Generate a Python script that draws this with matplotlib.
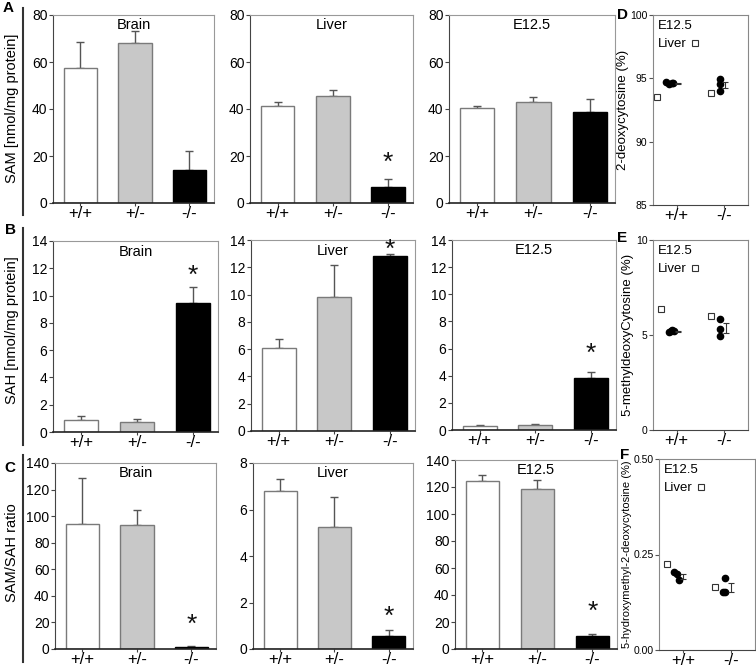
import numpy as np
import matplotlib
matplotlib.use('Agg')
import matplotlib.pyplot as plt
import matplotlib.transforms as mtransforms
from matplotlib.lines import Line2D

plt.rcParams['font.family'] = ['Liberation Sans', 'DejaVu Sans']

W, H = 756, 669

genotypes = ['+/+', '+/-', '-/-']
bar_colors = ['white', '#c8c8c8', 'black']

# SAM [nmol/mg protein]
sam_brain = [57.5, 68.1, 13.9]
sam_brain_err = [11.0, 4.9, 8.1]
sam_liver = [41.1, 45.4, 7.0]
sam_liver_err = [1.9, 2.5, 3.3]
sam_e125 = [40.3, 43.0, 38.7]
sam_e125_err = [1.0, 1.9, 5.7]

# SAH [nmol/mg protein]
sah_brain = [0.85, 0.73, 9.45]
sah_brain_err = [0.35, 0.22, 1.15]
sah_liver = [6.1, 9.8, 12.8]
sah_liver_err = [0.66, 2.4, 0.2]
sah_e125 = [0.32, 0.38, 3.8]
sah_e125_err = [0.03, 0.03, 0.48]

# SAM/SAH ratio
ratio_brain = [94.0, 93.0, 1.5]
ratio_brain_err = [35.0, 12.0, 0.6]
ratio_liver = [6.8, 5.23, 0.54]
ratio_liver_err = [0.5, 1.3, 0.27]
ratio_e125 = [124.4, 118.5, 9.8]
ratio_e125_err = [4.4, 6.8, 1.2]

# asterisk heights (significance marks)
star_sam = [None, 19.2, None]
star_sah = [11.8, 13.65, 5.95]
star_ratio = [21.8, 1.6, 31.0]

# nucleoside panels: filled dots = E12.5, open square = liver
geno2 = ['+/+', '-/-']
d_wt_x = [0.77, 0.84, 0.89, 0.93]
d_wt = [94.7, 94.55, 94.65, 94.65]
d_ko_x = [1.90, 1.90, 1.90]
d_ko = [94.93, 94.54, 94.01]
d_mean_x = [1.03, 2.02]
d_mean = [94.62, 94.46]
d_sem = [0.03, 0.26]
d_liver_x = [0.59, 1.72]
d_liver = [93.5, 93.88]

e_wt_x = [0.84, 0.87, 0.89, 0.94]
e_wt = [5.14, 5.2, 5.26, 5.22]
e_ko_x = [1.92, 1.92, 1.92]
e_ko = [5.84, 5.32, 4.93]
e_mean_x = [1.03, 2.03]
e_mean = [5.19, 5.35]
e_sem = [0.03, 0.26]
e_liver_x = [0.66, 1.72]
e_liver = [6.37, 6.02]

f_wt_x = [0.82, 0.87, 0.92]
f_wt = [0.204, 0.198, 0.182]
f_ko_x = [1.83, 1.87, 1.88]
f_ko = [0.152, 0.188, 0.153]
f_mean_x = [0.99, 2.0]
f_mean = [0.192, 0.163]
f_sem = [0.007, 0.012]
f_liver_x = [0.67, 1.67]
f_liver = [0.225, 0.165]

fig = plt.figure(figsize=(W / 100, H / 100), dpi=100)


def px_axes(l, t, r, b):
    return fig.add_axes([l / W, 1 - b / H, (r - l) / W, (b - t) / H])


def bar_panel(ax, vals, errs, title, ymax, ystep, star=None):
    x = np.arange(len(vals))
    ax.bar(x, vals, width=0.61, color=bar_colors, edgecolor=['#7a7a7a', '#7a7a7a', 'black'],
           linewidth=1, zorder=2)
    ax.errorbar(x, vals, yerr=[[0] * len(errs), errs], fmt='none', ecolor='#555555',
                elinewidth=1, capsize=3, capthick=1, zorder=1)
    if star is not None:
        tr = mtransforms.offset_copy(ax.transData, fig=fig, y=-5, units='dots')
        ax.text(x[-1], star, '*', ha='center', va='center', fontsize=19, color='#111111',
                transform=tr)
    ax.set_xlim(-0.5, 2.45)
    ax.set_ylim(0, ymax)
    ax.set_yticks(np.arange(0, ymax + 0.01, ystep))
    ax.set_xticks(x)
    ax.set_xticklabels(genotypes, fontsize=12)
    ax.tick_params(axis='y', labelsize=10, length=3, pad=1, color='#444444')
    ax.tick_params(axis='x', length=2, pad=0.5, color='#444444')
    ax.text(0.5, 0.945, title, transform=ax.transAxes, ha='center', va='center', fontsize=10.5)
    for s in ['top', 'right']:
        ax.spines[s].set_color('#999999')
    ax.spines['left'].set_color('#444444')
    ax.spines['bottom'].set_color('#222222')
    ax.spines['bottom'].set_linewidth(1.2)


def dot_panel(ax, wt_x, wt, ko_x, ko, mx, m, sem, lx, lv, ylim, yticks, yfmt, ylabel, ylfs):
    ax.plot(lx, lv, 's', ms=4, mfc='white', mec='#333333', mew=0.8, ls='none')
    ax.plot(wt_x, wt, 'o', ms=4.5, color='black', ls='none')
    ax.plot(ko_x, ko, 'o', ms=4.5, color='black', ls='none')
    ax.errorbar(mx, m, yerr=sem, fmt='none', ecolor='#333333', elinewidth=0.8,
                capsize=2.2, capthick=0.8)
    ax.set_xlim(0.5, 2.5)
    ax.set_ylim(*ylim)
    ax.set_yticks(yticks)
    ax.set_yticklabels([yfmt.format(v) for v in yticks])
    ax.set_xticks([1, 2])
    ax.set_xticklabels(geno2, fontsize=12)
    ax.tick_params(axis='y', labelsize=7.5, length=3, pad=1, color='#555555')
    ax.tick_params(axis='x', length=2, pad=0.5, color='#555555')
    ax.set_ylabel(ylabel, fontsize=ylfs, labelpad=1)
    for s in ['top', 'right', 'left']:
        ax.spines[s].set_color('#888888')
    ax.spines['bottom'].set_color('#444444')
    h = Line2D([], [], marker='s', ms=4, mfc='white', mec='#333333', mew=0.8, ls='none',
               label='Liver')
    ax.legend(handles=[h], title='E12.5', loc='upper left', frameon=False,
              markerfirst=False, fontsize=9.5, title_fontsize=9.5,
              borderaxespad=0.15, borderpad=0.2, handletextpad=0.2,
              handlelength=0.9, alignment='left')


# row A
ax = px_axes(53, 15, 214, 203)
bar_panel(ax, sam_brain, sam_brain_err, 'Brain', 80, 20, star_sam[0])
ax = px_axes(250, 15, 413, 203)
bar_panel(ax, sam_liver, sam_liver_err, 'Liver', 80, 20, star_sam[1])
ax = px_axes(449, 15, 615, 203)
bar_panel(ax, sam_e125, sam_e125_err, 'E12.5', 80, 20, star_sam[2])

# row B
ax = px_axes(53, 241, 218, 432)
bar_panel(ax, sah_brain, sah_brain_err, 'Brain', 14, 2, star_sah[0])
ax = px_axes(251, 240, 415, 431)
bar_panel(ax, sah_liver, sah_liver_err, 'Liver', 14, 2, star_sah[1])
ax = px_axes(452, 240, 616, 430)
bar_panel(ax, sah_e125, sah_e125_err, 'E12.5', 14, 2, star_sah[2])

# row C
ax = px_axes(55, 463, 216, 649)
bar_panel(ax, ratio_brain, ratio_brain_err, 'Brain', 140, 20, star_ratio[0])
ax = px_axes(253, 463, 413, 649)
bar_panel(ax, ratio_liver, ratio_liver_err, 'Liver', 8, 2, star_ratio[1])
ax = px_axes(455, 460, 617, 649)
bar_panel(ax, ratio_e125, ratio_e125_err, 'E12.5', 140, 20, star_ratio[2])

# D, E, F
ax = px_axes(653, 15, 748, 205)
dot_panel(ax, d_wt_x, d_wt, d_ko_x, d_ko, d_mean_x, d_mean, d_sem, d_liver_x, d_liver,
          (85, 100), [85, 90, 95, 100], '{:g}', '2-deoxycytosine (%)', 9.5)
ax = px_axes(653, 240, 748, 430)
dot_panel(ax, e_wt_x, e_wt, e_ko_x, e_ko, e_mean_x, e_mean, e_sem, e_liver_x, e_liver,
          (0, 10), [0, 5, 10], '{:g}', '5-methyldeoxyCytosine (%)', 9.5)
ax = px_axes(659, 459, 755, 650)
dot_panel(ax, f_wt_x, f_wt, f_ko_x, f_ko, f_mean_x, f_mean, f_sem, f_liver_x, f_liver,
          (0, 0.5), [0, 0.25, 0.5], '{:.2f}', '5-hydroxymethyl-2-deoxycytosine (%)', 8)

# row labels, bars and panel letters
row_labels = ['SAM [nmol/mg protein]', 'SAH [nmol/mg protein]', 'SAM/SAH ratio']
row_centers = [108, 330, 553]
row_spans = [(8, 215), (228, 445), (455, 662)]
for lab, yc, (y0, y1) in zip(row_labels, row_centers, row_spans):
    fig.text(12 / W, 1 - yc / H, lab, rotation=90, ha='center', va='center', fontsize=10.5)
    fig.add_artist(Line2D([23 / W, 23 / W], [1 - y0 / H, 1 - y1 / H], color='#333333', lw=1.5))

for letter, (lx, ly) in zip('ABCDEF', [(8, 8), (10, 230), (10, 468), (623, 15), (622, 238), (625, 455)]):
    fig.text(lx / W, 1 - ly / H, letter, ha='center', va='center', fontsize=11, fontweight='bold')

fig.savefig('out.png', dpi=100)
plt.close(fig)
